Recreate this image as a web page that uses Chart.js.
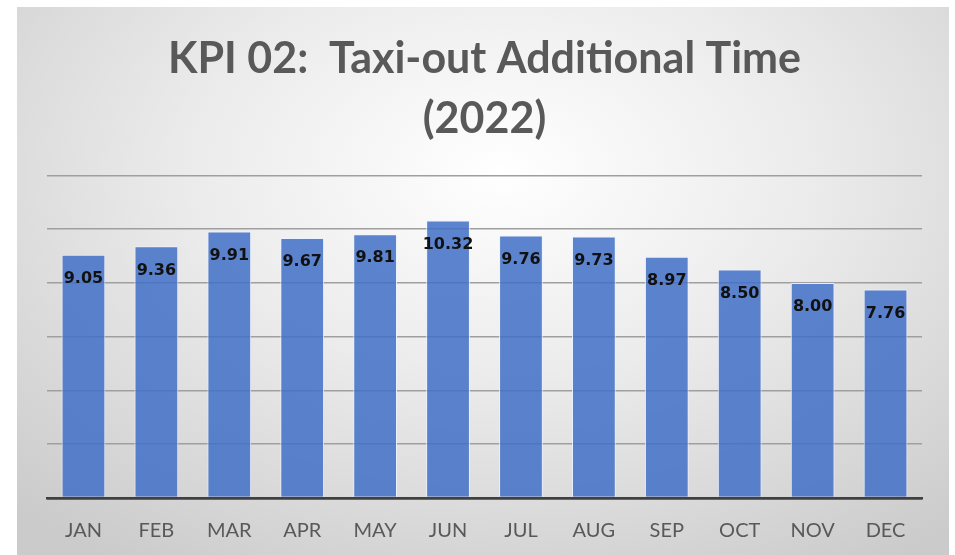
<!DOCTYPE html>
<html>
<head>
<meta charset="utf-8">
<script src="https://cdn.jsdelivr.net/npm/chart.js@4"></script>
<style>
  html, body { margin: 0; padding: 0; background: #fff; }
  #wrap {
    position: absolute; left: 17px; top: 7px; width: 932px; height: 548px;
    background: radial-gradient(ellipse 75% 85% at 52% 30%, #ffffff 0%, #ebebeb 45%, #cbcbcb 100%);
  }
</style>
</head>
<body>
<div id="wrap"><canvas id="kpi"></canvas></div>
<script>
// chart data
const months = ['JAN', 'FEB', 'MAR', 'APR', 'MAY', 'JUN', 'JUL', 'AUG', 'SEP', 'OCT', 'NOV', 'DEC'];
const taxiOutTime = [9.05, 9.36, 9.91, 9.67, 9.81, 10.32, 9.76, 9.73, 8.97, 8.50, 8.00, 7.76];
const titleLines = ['KPI 02:  Taxi-out Additional Time', '(2022)'];

// value labels inside the top of each bar
const barLabels = {
    id: 'barLabels',
    afterDatasetsDraw(chart) {
        const ctx = chart.ctx;
        const meta = chart.getDatasetMeta(0);
        ctx.save();
        ctx.font = 'bold 16px "DejaVu Sans"';
        ctx.fillStyle = '#111';
        ctx.textAlign = 'center';
        ctx.textBaseline = 'middle';
        meta.data.forEach((bar, i) => {
            ctx.fillText(taxiOutTime[i].toFixed(2), bar.x, bar.y + 24);
        });
        ctx.restore();
    }
};

new Chart(document.getElementById('kpi'), {
    type: 'bar',
    data: {
        labels: months,
        datasets: [{
            data: taxiOutTime,
            backgroundColor: 'rgba(66,112,198,0.86)',
            borderColor: 'rgba(235,242,255,0.9)',
            borderWidth: 1,
            categoryPercentage: 1,
            barPercentage: 0.6
        }]
    },
    options: {
        responsive: true,
        maintainAspectRatio: false,
        animation: false,
        layout: { padding: { left: 30, right: 27, top: 0, bottom: -9 } },
        plugins: {
            legend: { display: false },
            tooltip: { enabled: false },
            title: {
                display: true,
                text: titleLines,
                color: '#595959',
                font: { family: 'Lato', size: 43, weight: 'bold', lineHeight: 1.4 },
                padding: { top: 22, bottom: 26 }
            }
        },
        scales: {
            x: {
                grid: { display: false, drawTicks: false },
                border: { color: '#404040', width: 2.5 },
                ticks: { color: '#595959', font: { family: 'Lato', size: 20 }, padding: 21 }
            },
            y: {
                min: 0,
                max: 12,
                ticks: { display: false, stepSize: 2 },
                border: { display: false },
                grid: {
                    drawTicks: false,
                    color: (c) => c.tick && c.tick.value === 0 ? '#404040' : '#9f9f9f',
                    lineWidth: (c) => c.tick && c.tick.value === 0 ? 2.5 : 1.6
                }
            }
        }
    },
    plugins: [barLabels]
});
</script>
</body>
</html>
